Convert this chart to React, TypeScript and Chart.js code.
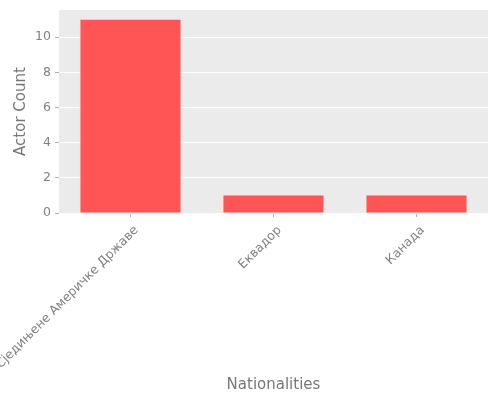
import React, { useEffect, useRef } from 'react';
import { Chart, registerables } from 'chart.js';

Chart.register(...registerables);

const nationalities = ['Сједињене Америчке Државе', 'Еквадор', 'Канада'];
const actorCounts = [11, 1, 1];
const yTicks = [0, 2, 4, 6, 8, 10];

const panelBackground = {
    id: 'panelBackground',
    beforeDraw(chart: any) {
        const { ctx, chartArea } = chart;
        ctx.save();
        ctx.fillStyle = '#EBEBEB';
        ctx.fillRect(chartArea.left, chartArea.top, chartArea.right - chartArea.left, chartArea.bottom - chartArea.top);
        ctx.restore();
    }
};

const App = () => {
    const canvasRef = useRef<HTMLCanvasElement>(null);

    useEffect(() => {
        let chart: Chart | null = null;
        if (canvasRef.current) {
            const ctx = canvasRef.current.getContext('2d');
            if (ctx) {
                chart = new Chart(ctx, {
                    type: 'bar',
                    data: {
                        labels: nationalities,
                        datasets: [{
                            label: 'Actor Count',
                            data: actorCounts,
                            backgroundColor: '#FF5555',
                            borderWidth: 0,
                            barPercentage: 0.7,
                            categoryPercentage: 1.0
                        }]
                    },
                    plugins: [panelBackground],
                    options: {
                        animation: false,
                        responsive: false,
                        devicePixelRatio: 1,
                        layout: { padding: { top: 10, right: 12, left: 0, bottom: 0 } },
                        plugins: {
                            legend: { display: false },
                            tooltip: { enabled: false }
                        },
                        scales: {
                            x: {
                                grid: { offset: false, drawOnChartArea: false, color: '#B0B0B0', tickLength: 4, lineWidth: 1 },
                                border: { display: false },
                                ticks: {
                                    minRotation: 45,
                                    maxRotation: 45,
                                    autoSkip: false,
                                    color: '#808080',
                                    padding: 6,
                                    labelOffset: 6,
                                    font: { family: 'DejaVu Sans', size: 12.5 }
                                },
                                title: {
                                    display: true,
                                    text: 'Nationalities',
                                    color: '#777777',
                                    font: { family: 'DejaVu Sans', size: 15 },
                                    padding: { top: 4, bottom: 6 }
                                },
                                afterFit: (scale: any) => {
                                    scale.height = 187;
                                    scale.paddingLeft = 0;
                                    scale.paddingRight = 0;
                                }
                            },
                            y: {
                                min: 0,
                                max: 11.55,
                                grid: { color: '#FFFFFF', tickColor: '#B0B0B0', tickLength: 4, lineWidth: 1 },
                                border: { display: false },
                                afterBuildTicks: (scale: any) => {
                                    scale.ticks = yTicks.map((v) => ({ value: v }));
                                },
                                ticks: {
                                    color: '#808080',
                                    padding: 4,
                                    font: { family: 'DejaVu Sans', size: 12.5 }
                                },
                                title: {
                                    display: true,
                                    text: 'Actor Count',
                                    color: '#777777',
                                    font: { family: 'DejaVu Sans', size: 15 },
                                    padding: { top: 12, bottom: 4 }
                                },
                                afterFit: (scale: any) => {
                                    scale.width = 59;
                                    scale.paddingTop = 0;
                                    scale.paddingBottom = 0;
                                }
                            }
                        }
                    }
                });
            }
        }
        return () => {
            if (chart) chart.destroy();
        };
    }, []);

    return (
        <div style={{ position: 'absolute', left: 0, top: 0, width: 500, height: 400, background: '#FFFFFF' }}>
            <canvas ref={canvasRef} width={500} height={400}></canvas>
        </div>
    );
};

export default App;
